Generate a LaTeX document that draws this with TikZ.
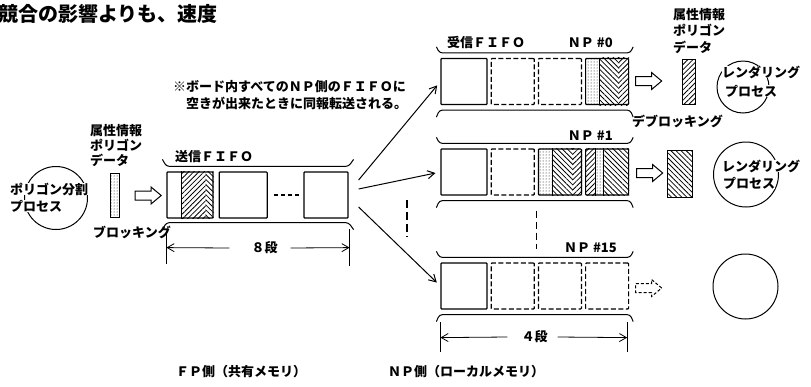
\documentclass[tikz,border=0pt]{standalone}
\usepackage{fontspec}
\newfontfamily\jp{Noto Sans CJK JP}
\usetikzlibrary{arrows.meta,positioning,calc,patterns.meta,shapes.arrows}

\begin{document}
\begin{tikzpicture}[
  x=1pt, y=-1pt,
  txt/.style={font=\jp\bfseries\fontsize{13}{15}\selectfont, inner sep=0pt, align=left},
  cell/.style={draw, line width=1.2pt, minimum width=43pt, minimum height=46pt,
    inner sep=0pt, rounded corners=.8pt},
  vacant/.style={cell, dash pattern=on 5pt off 2.5pt},
  hatchR/.style={pattern={Lines[angle=45,distance=3.6pt,line width=.8pt]}},
  hatchL/.style={pattern={Lines[angle=-45,distance=3.6pt,line width=.8pt]}},
  stipple/.style={pattern={Dots[distance=3pt,radius=.5pt]}},
  pack/.style={draw, line width=1pt, inner sep=0pt},
  hollow/.style={single arrow, draw, line width=1pt, inner sep=4pt,
    minimum height=26pt, single arrow head extend=4pt, single arrow tip angle=80},
  proc/.style={circle, draw, line width=1pt, inner sep=0pt},
  fan/.style={-{Straight Barb[length=7pt,width=8pt]}, line width=1pt, shorten >=5pt},
  dim/.style={-{Straight Barb[length=7pt,width=8pt]}, line width=.8pt},
  bracket/.style={line width=1pt, rounded corners=3pt}
]
\useasboundingbox (0,0) rectangle (811,386);

\node[txt,anchor=west,font=\jp\bfseries\fontsize{20}{22}\selectfont] (head) at (-2,14) {競合の影響よりも、速度};

% FP side
\node[proc,minimum size=63pt] (split) at (56,198) {};
\node[txt,fill=white,anchor=west] (splitA) at (10,189) {ポリゴン分割};
\node[txt,fill=white,anchor=west] (splitB) at (10,206) {プロセス};

\node[txt,anchor=west] (attrL) at (90,146) {属性情報\\ポリゴン\\データ};
\node[pack,stipple,minimum width=9pt,minimum height=44pt] (packL) at (114.5,195) {};
\node[txt] (blk) at (132,232) {ブロッキング};
\node[hollow] (pushL) at (145.5,195.5) {};

\node[txt,anchor=west] (sendlbl) at (175,157) {送信ＦＩＦＯ};
\node[cell,minimum width=46pt] (s1) at (190,195) {};
\node[cell,right=5pt of s1,minimum width=48pt] (s2) {};
\node[cell,minimum width=44pt] (s3) at (326,195) {};
\fill[hatchR] ([xshift=15]s1.south west) rectangle ([xshift=-8]s1.north east);
\fill[hatchL] ([xshift=-8]s1.south east) rectangle (s1.north east);
\draw[line width=1pt] ([xshift=15]s1.south west) -- ([xshift=15]s1.north west);
\draw[line width=1.2pt,dash pattern=on 4pt off 3pt]
  ([xshift=6]s2.east) -- ([xshift=-4]s3.west);

\draw[bracket] ([shift={(-4,-12)}]s1.north west) -- ([shift={(0,-5)}]s1.north west)
  -- ([shift={(0,-5)}]s3.north east) -- ([shift={(5,-12)}]s3.north east);
\draw[bracket] ([shift={(-4,11)}]s1.south west) -- ([shift={(0,4)}]s1.south west)
  -- ([shift={(0,4)}]s3.south east) -- ([shift={(5,11)}]s3.south east);

% 8 stages
\node[txt] (eight) at (264.5,248) {８段};
\coordinate (dimL) at ($(s1.south west)+(0,29)$);
\coordinate (dimR) at ($(s3.south east)+(1,29)$);
\draw[line width=.8pt] ([yshift=-16]dimL) -- ([yshift=16]dimL);
\draw[line width=.8pt] ([yshift=-18]dimR) -- ([yshift=19]dimR);
\draw[dim] ([xshift=-22]eight.west) -- (dimL);
\draw[dim] ([xshift=13]eight.east) -- (dimR);

% NP side
\node[txt,anchor=west] (recvlbl) at (447,43) {受信ＦＩＦＯ};
\node[txt,anchor=east] (np0) at (613,43) {ＮＰ \#0};
\node[cell,minimum width=46pt] (a0) at (464,81.5) {};
\node[vacant,right=3pt of a0] (b0) {};
\node[vacant,right=3pt of b0] (c0) {};
\node[cell,right=3pt of c0] (d0) {};
\fill[stipple] (d0.south west) rectangle ([xshift=14]d0.north west);
\fill[hatchL] ([xshift=14]d0.south west) rectangle ([xshift=34]d0.north west);
\fill[hatchR] ([xshift=34]d0.south west) rectangle (d0.north east);
\draw[line width=1pt] ([xshift=14]d0.south west) -- ([xshift=14]d0.north west);

\node[txt,anchor=east] (np1) at (613,136) {ＮＰ \#1};
\node[cell,minimum width=46pt] (a1) at (464,172) {};
\node[vacant,right=3pt of a1] (b1) {};
\node[cell,right=3pt of b1] (c1) {};
\node[cell,right=3pt of c1] (d1) {};
\fill[stipple] (c1.south west) rectangle ([xshift=15]c1.north west);
\fill[hatchL] ([xshift=15]c1.south west) rectangle ([xshift=35]c1.north west);
\fill[hatchR] ([xshift=35]c1.south west) rectangle (c1.north east);
\draw[line width=1pt] ([xshift=15]c1.south west) -- ([xshift=15]c1.north west);
\fill[hatchR] (d1.south west) rectangle ([xshift=10]d1.north west);
\fill[stipple] ([xshift=10]d1.south west) rectangle ([xshift=18]d1.north west);
\fill[hatchL] ([xshift=18]d1.south west) rectangle (d1.north east);
\draw[line width=1pt] ([xshift=10]d1.south west) -- ([xshift=10]d1.north west);
\draw[line width=1pt] ([xshift=18]d1.south west) -- ([xshift=18]d1.north west);

\node[txt,anchor=east] (np15) at (617,248) {ＮＰ \#15};
\node[cell,minimum width=46pt] (a15) at (464,286) {};
\node[vacant,right=3pt of a15] (b15) {};
\node[vacant,right=3pt of b15] (c15) {};
\node[vacant,right=3pt of c15] (d15) {};

\foreach \r in {0,1,15} {
  \draw[bracket] ([shift={(-4,-11)}]a\r.north west) -- ([shift={(-1,-5)}]a\r.north west)
    -- ([shift={(1,-5)}]d\r.north east) -- ([shift={(4,-11)}]d\r.north east);
  \draw[bracket] ([shift={(-4,12)}]a\r.south west) -- ([shift={(-1,5)}]a\r.south west)
    -- ([shift={(1,5)}]d\r.south east) -- ([shift={(4,12)}]d\r.south east);
}
\draw[line width=1.2pt,dash pattern=on 7pt off 4pt]
  ($(b1.south east)+(1.5,15)$) -- ($(b15.north east)+(1.5,-13)$);

% 4 stages
\node[txt] (four) at (534.5,337) {４段};
\coordinate (dim4L) at ($(a15.south west)+(0,28)$);
\coordinate (dim4R) at ($(d15.south east)+(-2,28)$);
\draw[line width=.8pt] ([yshift=-14]dim4L) -- ([yshift=16]dim4L);
\draw[line width=.8pt] ([yshift=-14]dim4R) -- ([yshift=16]dim4R);
\draw[dim] ([xshift=-14]four.west) -- (dim4L);
\draw[dim] ([xshift=10]four.east) -- (dim4R);

% transfer from the send FIFO
\node[txt,anchor=west,font=\jp\bfseries\fontsize{13}{17}\selectfont] (note) at (173,95.5)
  {※ボード内すべてのＮＰ側のＦＩＦＯに\\　空きが出来たときに同報転送される。};
\coordinate (fan0) at ($(s3.east)+(10,-15)$);
\coordinate (fan1) at ($(s3.east)+(10,-6)$);
\coordinate (fan15) at ($(s3.east)+(10,12)$);
\draw[fan] (fan0) -- (a0.west);
\draw[fan] (fan1) -- (a1.west);
\draw[fan] (fan15) -- (a15.west);
\draw[line width=1.2pt,dash pattern=on 8pt off 4pt] (407,200) -- (407,237);

% rendering side
\node[txt,anchor=west,font=\jp\bfseries\fontsize{13}{16.5}\selectfont] (attrR) at (673,31) {属性情報\\ポリゴン\\データ};
\node[hollow] (out0) at (646,81) {};
\node[pack,hatchR,minimum width=13pt,minimum height=45pt] (pack0) at (688.5,81.5) {};
\node[txt,anchor=west] (deblk) at (632,121) {デブロッキング};
\node[proc,minimum size=52pt] (rend0) at (743,87) {};
\node[txt,fill=white,anchor=west] (rend0a) at (722,72) {レンダリング};
\node[txt,fill=white,anchor=west] (rend0b) at (725,91) {プロセス};

\node[hollow] (out1) at (647,173) {};
\node[pack,hatchL,minimum width=25pt,minimum height=47pt] (pack1) at (679.5,173.5) {};
\node[proc,minimum size=65pt] (rend1) at (746,174.5) {};
\node[txt,fill=white,anchor=west] (rend1a) at (722,166) {レンダリング};
\node[txt,fill=white,anchor=west] (rend1b) at (723,183) {プロセス};

\node[hollow,dash pattern=on 3pt off 2pt] (out15) at (646,288) {};
\node[proc,minimum size=65pt] (rend15) at (745.5,286.5) {};

% captions
\node[txt] (fpside) at (241,372) {ＦＰ側（共有メモリ）};
\node[txt] (npside) at (466,372) {ＮＰ側（ローカルメモリ）};
\end{tikzpicture}
\end{document}
